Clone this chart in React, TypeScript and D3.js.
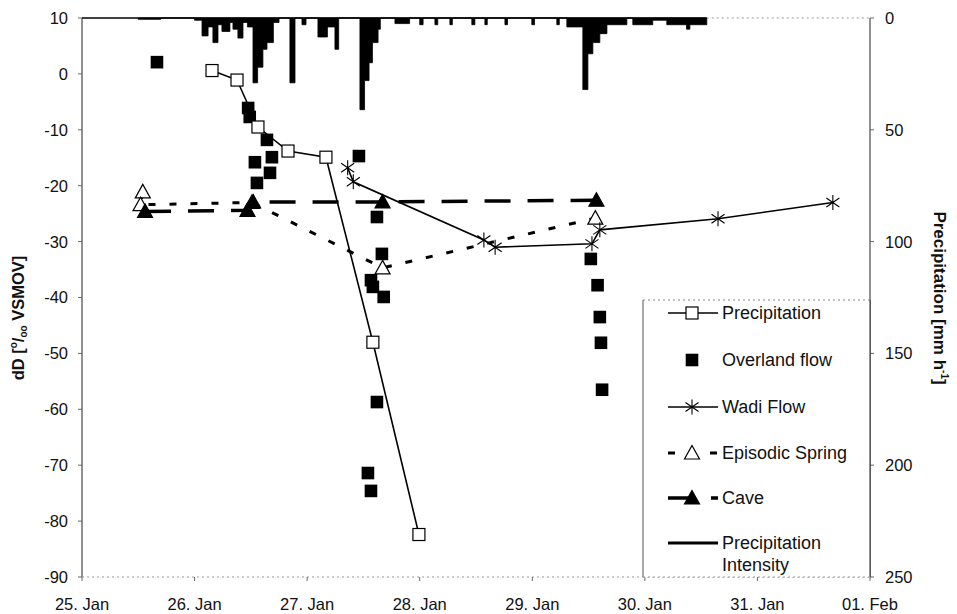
import React from "react";
import * as d3 from "d3";

// ---- data (time in days after 25. Jan 00:00) ----
const dayLabels = ["25. Jan", "26. Jan", "27. Jan", "28. Jan", "29. Jan", "30. Jan", "31. Jan", "01. Feb"];
const leftTicks = [10, 0, -10, -20, -30, -40, -50, -60, -70, -80, -90];
const rightTicks = [0, 50, 100, 150, 200, 250];

const precipT = [1.155, 1.377, 1.563, 1.83, 2.167, 2.584, 2.993];
const precipD = [0.6, -1.1, -9.5, -13.8, -14.9, -48, -82.4];

const overlandT = [0.666, 1.476, 1.49, 1.643, 1.687, 1.536, 1.67, 1.554, 2.46, 2.62, 2.664, 2.567, 2.584, 2.68, 2.62, 2.54, 2.567, 4.52, 4.58, 4.6, 4.61, 4.62];
const overlandD = [2.1, -6.1, -7.7, -11.8, -14.9, -15.8, -17.7, -19.5, -14.7, -25.6, -32.2, -36.9, -38.1, -39.9, -58.7, -71.4, -74.6, -33.1, -37.8, -43.5, -48.1, -56.5];

const wadiT = [2.36, 2.41, 3.57, 3.67, 4.53, 4.6, 5.65, 6.67];
const wadiD = [-16.8, -19.3, -29.7, -31.0, -30.4, -27.9, -25.9, -23.0];

const springT = [0.54, 0.52, 1.51, 2.67, 4.56];
const springD = [-21.1, -23.4, -23.0, -34.7, -25.8];

const caveT = [0.56, 1.47, 1.52, 2.67, 4.57];
const caveD = [-24.6, -24.4, -22.9, -22.9, -22.6];

// precipitation intensity [mm/h], step series: [start time, intensity]
const rain: [number, number][] = [
  [0.5, 0.6], [0.7, 0], [1.0, 1], [1.066, 8], [1.12, 4], [1.163, 11], [1.208, 3], [1.243, 6],
  [1.314, 2], [1.341, 5], [1.385, 9], [1.43, 2], [1.47, 4], [1.519, 29], [1.56, 22], [1.607, 14],
  [1.643, 11], [1.7, 2], [1.75, 0], [1.847, 29], [1.892, 0], [1.954, 3], [1.99, 0], [2.096, 8.5],
  [2.18, 4], [2.247, 14], [2.28, 0], [2.469, 41], [2.51, 28], [2.55, 20], [2.58, 11], [2.63, 5],
  [2.65, 0], [2.78, 2.5], [2.91, 0], [3.0, 3], [3.03, 0], [3.135, 3], [3.16, 0], [3.268, 3],
  [3.29, 0], [3.463, 3], [3.49, 0], [3.579, 3], [3.6, 0], [3.757, 3], [3.78, 0], [3.996, 3],
  [4.02, 0], [4.218, 3], [4.24, 0], [4.307, 4], [4.449, 32], [4.494, 16], [4.538, 11], [4.6, 7],
  [4.663, 3], [4.84, 0], [4.893, 3], [5.07, 1], [5.195, 3], [5.37, 5], [5.4, 3], [5.55, 0],
];

const FONT = "'Liberation Sans', Arial, sans-serif";

const x = d3.scaleLinear().domain([0, 7]).range([82, 870]);
const yL = d3.scaleLinear().domain([-90, 10]).range([577, 18]);
const yR = d3.scaleLinear().domain([0, 250]).range([18, 577]);

function zip(t: number[], v: number[]): [number, number][] {
  return t.map((ti, i) => [ti, v[i]]);
}

const lineL = d3
  .line<[number, number]>()
  .x((d) => x(d[0]))
  .y((d) => yL(d[1]));

const rainArea = d3
  .area<[number, number]>()
  .x((d) => x(d[0]))
  .y0(yR(0))
  .y1((d) => yR(d[1]))
  .curve(d3.curveStepAfter);

const SPRING_DASH = "7,14";
const CAVE_DASH = "26,17";

function OpenSquare({ cx, cy }: { cx: number; cy: number }) {
  return <rect x={cx - 6} y={cy - 6} width={12} height={12} fill="#fff" stroke="#000" strokeWidth={1.2} />;
}
function FilledSquare({ cx, cy }: { cx: number; cy: number }) {
  return <rect x={cx - 6.3} y={cy - 6.3} width={12.6} height={12.6} fill="#000" />;
}
function Tri({ cx, cy, filled }: { cx: number; cy: number; filled: boolean }) {
  const p = d3.path();
  p.moveTo(cx, cy - 7.5);
  p.lineTo(cx + 7.5, cy + 6);
  p.lineTo(cx - 7.5, cy + 6);
  p.closePath();
  return <path d={p.toString()} fill={filled ? "#000" : "#fff"} stroke="#000" strokeWidth={1.2} />;
}
function Star({ cx, cy }: { cx: number; cy: number }) {
  const r = 7.5;
  const p = d3.path();
  p.moveTo(cx, cy - r);
  p.lineTo(cx, cy + r);
  p.moveTo(cx - r * 0.87, cy - r * 0.6);
  p.lineTo(cx + r * 0.87, cy + r * 0.6);
  p.moveTo(cx - r * 0.87, cy + r * 0.6);
  p.lineTo(cx + r * 0.87, cy - r * 0.6);
  return <path d={p.toString()} stroke="#000" strokeWidth={1.1} fill="none" />;
}

export default function App() {
  const precip = zip(precipT, precipD);
  const overland = zip(overlandT, overlandD);
  const wadi = zip(wadiT, wadiD);
  const spring = zip(springT, springD);
  const cave = zip(caveT, caveD);
  const rainEnd = rain[rain.length - 1][0];

  const legX0 = 668;
  const legX1 = 718;
  const legM = 692;
  const legText = 722;
  const legRows = [313, 360, 407, 453, 498, 543];

  return (
    <svg
      width={957}
      height={614}
      style={{ position: "absolute", left: 0, top: 0, background: "#fff" }}
      fontFamily={FONT}
    >
      <rect x={0} y={0} width={957} height={614} fill="#fff" />

      {/* axes */}
      <line x1={x(0)} x2={x(0)} y1={yL(10)} y2={yL(-90)} stroke="#222" strokeWidth={1} />
      <line x1={x(7)} x2={x(7)} y1={yR(0)} y2={yR(250)} stroke="#222" strokeWidth={1} />
      <line x1={x(0)} x2={x(7)} y1={yL(-90)} y2={yL(-90)} stroke="#999" strokeWidth={1} strokeDasharray="2,3" />
      <line x1={x(rainEnd)} x2={x(7)} y1={yR(0)} y2={yR(0)} stroke="#999" strokeWidth={1} strokeDasharray="2,3" />

      {leftTicks.map((t) => (
        <g key={"l" + t}>
          <line x1={x(0) - 4} x2={x(0)} y1={yL(t)} y2={yL(t)} stroke="#666" />
          <text x={68} y={yL(t)} dy="0.36em" textAnchor="end" fontSize={16.5} fill="#111">
            {t}
          </text>
        </g>
      ))}
      {rightTicks.map((t) => (
        <g key={"r" + t}>
          <line x1={x(7)} x2={x(7) + 4} y1={yR(t)} y2={yR(t)} stroke="#666" />
          <text x={885} y={yR(t)} dy="0.36em" textAnchor="start" fontSize={16.5} fill="#111">
            {t}
          </text>
        </g>
      ))}
      {dayLabels.map((lab, i) => (
        <g key={lab}>
          <line x1={x(i)} x2={x(i)} y1={yL(-90)} y2={yL(-90) + 4} stroke="#666" />
          <text x={x(i)} y={610} textAnchor="middle" fontSize={16.5} fill="#111">
            {lab}
          </text>
        </g>
      ))}

      {/* axis titles */}
      <text
        transform={`translate(24,318) rotate(-90)`}
        textAnchor="middle"
        fontSize={16.5}
        fontWeight="bold"
        fill="#111"
      >
        dD [<tspan fontSize={10} dy={-7}>o</tspan>
        <tspan dy={7}>/</tspan>
        <tspan fontSize={10} dy={3}>oo</tspan>
        <tspan dy={-3}> VSMOV]</tspan>
      </text>
      <text
        transform={`translate(934,298) rotate(90)`}
        textAnchor="middle"
        fontSize={17}
        fontWeight="bold"
        fill="#111"
      >
        Precipitation [mm h<tspan fontSize={10} dy={-7}>-1</tspan>
        <tspan dy={7}>]</tspan>
      </text>

      {/* precipitation intensity (hanging from top, right axis) */}
      <path d={rainArea(rain) || ""} fill="#000" stroke="#000" strokeWidth={0.8} />
      <line x1={x(0)} x2={x(rainEnd)} y1={yR(0)} y2={yR(0)} stroke="#000" strokeWidth={1.6} />

      {/* series lines */}
      <path d={lineL(spring) || ""} fill="none" stroke="#000" strokeWidth={3} strokeDasharray={SPRING_DASH} />
      <path d={lineL(cave) || ""} fill="none" stroke="#000" strokeWidth={3.5} strokeDasharray={CAVE_DASH} />
      <path d={lineL(wadi) || ""} fill="none" stroke="#000" strokeWidth={1.6} />
      <path d={lineL(precip) || ""} fill="none" stroke="#000" strokeWidth={1.6} />

      {/* markers */}
      {overland.map((d, i) => (
        <FilledSquare key={"o" + i} cx={x(d[0])} cy={yL(d[1])} />
      ))}
      {spring.map((d, i) => (
        <Tri key={"s" + i} cx={x(d[0])} cy={yL(d[1])} filled={false} />
      ))}
      {cave.map((d, i) => (
        <Tri key={"c" + i} cx={x(d[0])} cy={yL(d[1])} filled={true} />
      ))}
      {wadi.map((d, i) => (
        <Star key={"w" + i} cx={x(d[0])} cy={yL(d[1])} />
      ))}
      {precip.map((d, i) => (
        <OpenSquare key={"p" + i} cx={x(d[0])} cy={yL(d[1])} />
      ))}

      {/* legend */}
      <rect x={643} y={300} width={x(7) - 643} height={yL(-90) - 300} fill="#fff" />
      <line x1={643} x2={643} y1={300} y2={yL(-90)} stroke="#555" strokeWidth={1} />
      <line x1={643} x2={x(7)} y1={300} y2={300} stroke="#888" strokeWidth={1} strokeDasharray="2,3" />
      <line x1={x(7)} x2={x(7)} y1={300} y2={yL(-90)} stroke="#222" strokeWidth={1} />
      <line x1={643} x2={x(7)} y1={yL(-90)} y2={yL(-90)} stroke="#999" strokeWidth={1} strokeDasharray="2,3" />

      <g fontSize={18} fill="#111">
        <line x1={legX0} x2={legX1} y1={legRows[0]} y2={legRows[0]} stroke="#000" strokeWidth={1.6} />
        <OpenSquare cx={legM} cy={legRows[0]} />
        <text x={legText} y={legRows[0]} dy="0.36em">Precipitation</text>

        <FilledSquare cx={legM} cy={legRows[1]} />
        <text x={legText} y={legRows[1]} dy="0.36em">Overland flow</text>

        <line x1={legX0} x2={legX1} y1={legRows[2]} y2={legRows[2]} stroke="#000" strokeWidth={1.3} />
        <Star cx={legM} cy={legRows[2]} />
        <text x={legText} y={legRows[2]} dy="0.36em">Wadi Flow</text>

        <line x1={legX0} x2={legX1} y1={legRows[3]} y2={legRows[3]} stroke="#000" strokeWidth={3} strokeDasharray={SPRING_DASH} />
        <Tri cx={legM} cy={legRows[3]} filled={false} />
        <text x={legText} y={legRows[3]} dy="0.36em">Episodic Spring</text>

        <line x1={legX0} x2={legX1} y1={legRows[4]} y2={legRows[4]} stroke="#000" strokeWidth={3.5} strokeDasharray={CAVE_DASH} />
        <Tri cx={legM} cy={legRows[4]} filled={true} />
        <text x={legText} y={legRows[4]} dy="0.36em">Cave</text>

        <line x1={legX0} x2={legX1} y1={legRows[5]} y2={legRows[5]} stroke="#000" strokeWidth={3} />
        <text x={legText} y={legRows[5]} dy="0.36em">Precipitation</text>
        <text x={legText} y={565} dy="0.36em">Intensity</text>
      </g>
    </svg>
  );
}
